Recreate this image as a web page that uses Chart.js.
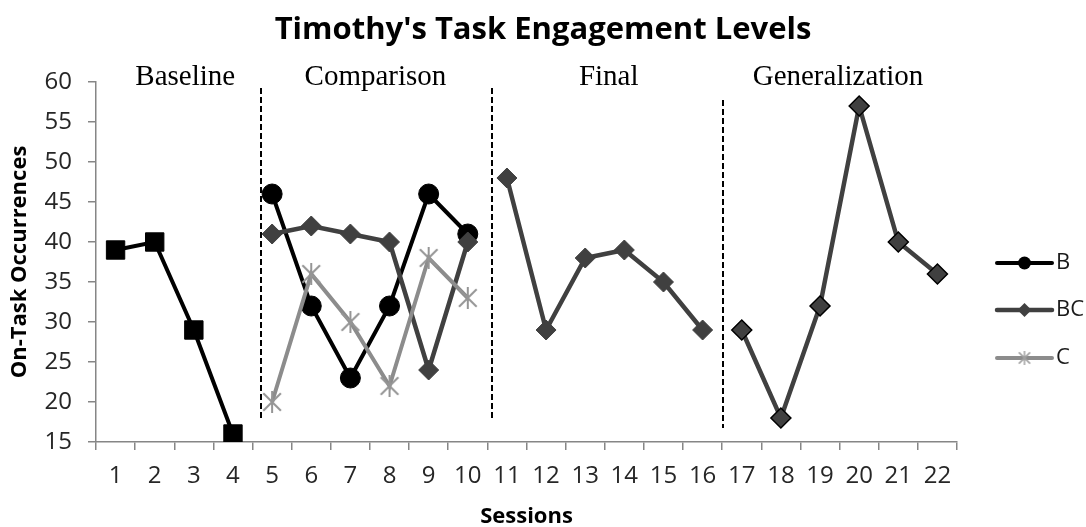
<!DOCTYPE html>
<html>
<head>
<meta charset="utf-8">
<script src="https://cdn.jsdelivr.net/npm/chart.js@4/dist/chart.umd.min.js"></script>
<style>
  html, body { margin: 0; padding: 0; background: #fff; }
  #wrap { width: 1086px; height: 527px; }
</style>
</head>
<body>
<div id="wrap"><canvas id="engagement"></canvas></div>
<script>
// sessions on the x axis
var sessions = ['1','2','3','4','5','6','7','8','9','10','11','12','13','14','15','16','17','18','19','20','21','22'];
var yTicks = [15, 20, 25, 30, 35, 40, 45, 50, 55, 60];

// on-task occurrences, per phase
var baselineScores = [39, 40, 29, 16];           // sessions 1-4
var bScores        = [46, 32, 23, 32, 46, 41];   // sessions 5-10
var bcComparison   = [41, 42, 41, 40, 24, 40];   // sessions 5-10
var cScores        = [20, 36, 30, 22, 38, 33];   // sessions 5-10
var bcFinal        = [48, 29, 38, 39, 35, 29];   // sessions 11-16
var bcGeneral      = [29, 18, 32, 57, 40, 36];   // sessions 17-22

var chartTitle = "Timothy's Task Engagement Levels";
var phaseNames = ['Baseline', 'Comparison', 'Final', 'Generalization'];
var legendNames = ['B', 'BC', 'C'];

// put a phase's values on the full session axis
function place(values, startIdx) {
  var out = [];
  for (var i = 0; i < sessions.length; i++) {
    var k = i - startIdx;
    out.push(k >= 0 && k < values.length ? values[k] : null);
  }
  return out;
}

var BLACK = '#000000';
var DARK = '#404040';
var LIGHT = '#8c8c8c';

// excel style asterisk marker (x plus a vertical bar)
function makeStar(size, color, lw) {
  var cv = document.createElement('canvas');
  cv.width = size; cv.height = size;
  var c = cv.getContext('2d');
  var m = size / 2, r = size / 2 - 1;
  c.strokeStyle = color;
  c.lineWidth = lw;
  c.beginPath();
  c.moveTo(m, m - r); c.lineTo(m, m + r);
  c.moveTo(m - r * 0.8, m - r * 0.8); c.lineTo(m + r * 0.8, m + r * 0.8);
  c.moveTo(m + r * 0.8, m - r * 0.8); c.lineTo(m - r * 0.8, m + r * 0.8);
  c.stroke();
  return cv;
}
var starBig = makeStar(24, '#959595', 2);
var starSmall = makeStar(16, '#a0a0a0', 1.5);

// phase separators and phase headings, in axis units
var phaseLines = [
  {x: 3.72, from: 18, to: 59.25},
  {x: 9.63, from: 18, to: 59.25},
  {x: 15.52, from: 16.75, to: 57.75}
];
var phaseLabelX = [1.78, 6.64, 12.6, 18.46];

var phasePlugin = {
  id: 'phases',
  beforeDatasetsDraw: function(chart) {
    var ctx = chart.ctx, xs = chart.scales.x, ys = chart.scales.y;
    ctx.save();
    ctx.strokeStyle = '#000';
    ctx.lineWidth = 2;
    ctx.setLineDash([6, 3]);
    phaseLines.forEach(function(p) {
      var px = Math.round(xs.getPixelForValue(p.x));
      ctx.beginPath();
      ctx.moveTo(px, ys.getPixelForValue(p.to));
      ctx.lineTo(px, ys.getPixelForValue(p.from));
      ctx.stroke();
    });
    ctx.restore();
  },
  afterDraw: function(chart) {
    var ctx = chart.ctx, xs = chart.scales.x;
    ctx.save();

    // title centred on the whole canvas
    ctx.fillStyle = '#000';
    ctx.font = 'bold 31px "Open Sans"';
    ctx.textAlign = 'center';
    ctx.textBaseline = 'middle';
    ctx.fillText(chartTitle, chart.width / 2, 30);

    ctx.font = '29px "Liberation Serif"';
    ctx.textBaseline = 'alphabetic';
    phaseNames.forEach(function(name, i) {
      ctx.fillText(name, xs.getPixelForValue(phaseLabelX[i]), chart.chartArea.top + 3);
    });

    // legend: line sample + marker + name
    var x0 = chart.chartArea.right + 40, x1 = x0 + 55;
    var yMid = (chart.chartArea.top + chart.chartArea.bottom) / 2;
    var rows = [yMid + 1, yMid + 48, yMid + 96];
    ctx.font = '22px "Open Sans"';
    ctx.textAlign = 'left';
    ctx.textBaseline = 'middle';
    legendNames.forEach(function(name, i) {
      var ds = chart.data.datasets.find(function(d) { return d.label === name; });
      var y = rows[i], cx = (x0 + x1) / 2;
      ctx.strokeStyle = ds.borderColor;
      ctx.lineWidth = ds.borderWidth;
      ctx.setLineDash([]);
      ctx.lineCap = 'round';
      ctx.beginPath();
      ctx.moveTo(x0, y); ctx.lineTo(x1, y);
      ctx.stroke();
      ctx.fillStyle = ds.pointBackgroundColor;
      if (ds.pointStyle === 'circle') {
        ctx.beginPath();
        ctx.arc(cx, y, 6.5, 0, Math.PI * 2);
        ctx.fill();
      } else if (ds.pointStyle === 'rectRot') {
        ctx.beginPath();
        ctx.moveTo(cx - 7, y); ctx.lineTo(cx, y - 7);
        ctx.lineTo(cx + 7, y); ctx.lineTo(cx, y + 7);
        ctx.closePath();
        ctx.fill();
      } else {
        ctx.drawImage(starSmall, cx - 8, y - 8);
      }
      ctx.fillStyle = '#1a1a1a';
      ctx.fillText(name, x1 + 4, y);
    });
    ctx.restore();
  }
};

new Chart(document.getElementById('engagement'), {
  type: 'line',
  data: {
    labels: sessions,
    datasets: [
      {
        label: 'Baseline',
        data: place(baselineScores, 0),
        borderColor: BLACK, borderWidth: 4,
        pointStyle: 'rect', pointRadius: 13,
        pointBackgroundColor: BLACK, pointBorderColor: BLACK, pointBorderWidth: 1,
        order: 4
      },
      {
        label: 'B',
        data: place(bScores, 4),
        borderColor: BLACK, borderWidth: 4,
        pointStyle: 'circle', pointRadius: 10,
        pointBackgroundColor: BLACK, pointBorderColor: BLACK, pointBorderWidth: 1,
        order: 3
      },
      {
        label: 'BC',
        data: place(bcComparison, 4),
        borderColor: DARK, borderWidth: 4.5,
        pointStyle: 'rectRot', pointRadius: 10,
        pointBackgroundColor: DARK, pointBorderColor: DARK, pointBorderWidth: 1,
        order: 2
      },
      {
        label: 'C',
        data: place(cScores, 4),
        borderColor: LIGHT, borderWidth: 4,
        pointStyle: starBig, pointRadius: 12,
        pointBackgroundColor: LIGHT,
        order: 1
      },
      {
        label: 'BC final',
        data: place(bcFinal, 10),
        borderColor: DARK, borderWidth: 4.5,
        pointStyle: 'rectRot', pointRadius: 10,
        pointBackgroundColor: DARK, pointBorderColor: DARK, pointBorderWidth: 1,
        order: 2
      },
      {
        label: 'BC generalization',
        data: place(bcGeneral, 16),
        borderColor: DARK, borderWidth: 4.5,
        pointStyle: 'rectRot', pointRadius: 10,
        pointBackgroundColor: DARK, pointBorderColor: BLACK, pointBorderWidth: 1.5,
        order: 2
      }
    ]
  },
  options: {
    responsive: true,
    maintainAspectRatio: false,
    animation: false,
    spanGaps: false,
    layout: { padding: { left: 0, right: 129, top: 82, bottom: 0 } },
    plugins: {
      legend: { display: false },
      tooltip: { enabled: false },
      title: { display: false }
    },
    scales: {
      x: {
        type: 'category',
        offset: true,
        grid: { offset: true, drawOnChartArea: false, tickLength: 8, color: '#868686', lineWidth: 1.5 },
        border: { color: '#868686', width: 1.5 },
        ticks: {
          color: '#262626', autoSkip: false, maxRotation: 0, padding: 12,
          font: { family: '"Open Sans"', size: 24 }
        },
        title: {
          display: true, text: 'Sessions', color: '#000',
          font: { family: '"Open Sans"', size: 22, weight: 'bold' },
          padding: { top: 0, bottom: -3 }
        },
        afterFit: function(s) { s.height = 85; }
      },
      y: {
        min: yTicks[0],
        max: yTicks[yTicks.length - 1],
        afterBuildTicks: function(s) { s.ticks = yTicks.map(function(v) { return { value: v }; }); },
        grid: { drawOnChartArea: false, tickLength: 8, color: '#868686', lineWidth: 1.5 },
        border: { color: '#868686', width: 1.5 },
        ticks: {
          color: '#262626', padding: 16,
          font: { family: '"Open Sans"', size: 24 }
        },
        title: {
          display: true, text: 'On-Task Occurrences', color: '#000',
          font: { family: '"Open Sans"', size: 22, weight: 'bold' },
          padding: { top: 7, bottom: 0 }
        },
        afterFit: function(s) { s.width = 96; }
      }
    }
  },
  plugins: [phasePlugin]
});
</script>
</body>
</html>
